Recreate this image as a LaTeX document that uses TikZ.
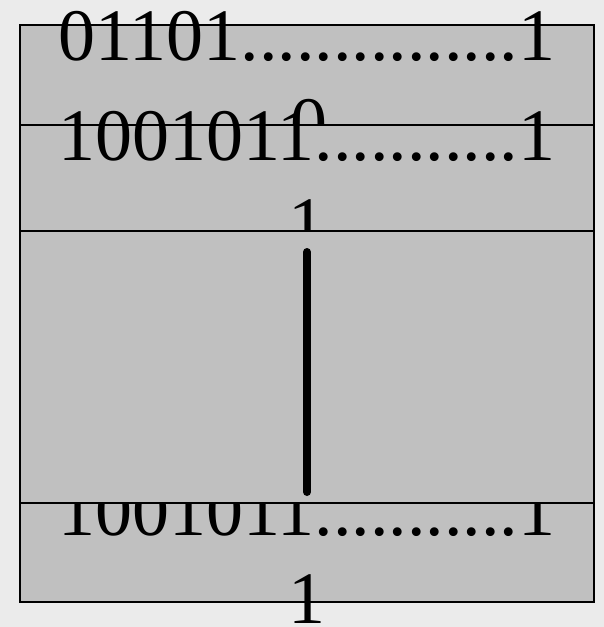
\documentclass[tikz,border=0pt]{standalone}
\usepackage{fontspec}
\setmainfont{Liberation Serif}
\definecolor{bgc}{HTML}{EBEBEB}
\definecolor{boxc}{HTML}{C0C0C0}
\tikzset{
  band/.style={fill=boxc,draw=black,line width=1.3pt},
  bits/.style={anchor=base,inner sep=0pt,font=\fontsize{74}{88}\selectfont},
  bar/.style={line width=8pt,line cap=round}
}
\begin{document}
\begin{tikzpicture}[x=1pt,y=-1pt]
\useasboundingbox (0,0) rectangle (604,627);
\fill[bgc] (0,0) rectangle (604,627);
% row 1
\draw[band] (20,25) rectangle (594,125);
\node[bits] (t1) at (307,60) {01101...............1};
\node[bits] (t1b) at (309,148) {0};
% row 2
\draw[band] (20,125) rectangle (594,231);
\node[bits] (t2) at (307,160) {1001011...........1};
\node[bits] (t2b) at (307,248) {1};
% row 4
\draw[band] (20,503) rectangle (594,602);
\node[bits] (t4) at (307,535) {1001011...........1};
\node[bits] (t4b) at (307,623) {1};
% row 3
\draw[band] (20,231) rectangle (594,503);
\coordinate (va) at (307,252);
\coordinate (vb) at (307,492);
\draw[bar] (va) -- (vb);
\end{tikzpicture}
\end{document}
